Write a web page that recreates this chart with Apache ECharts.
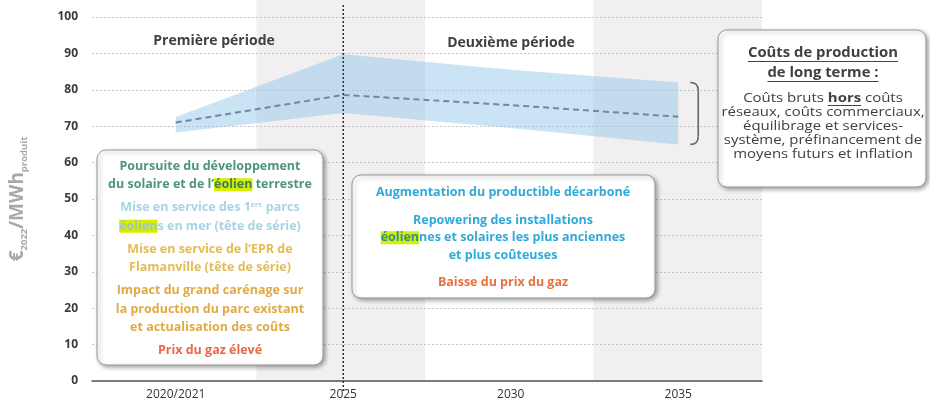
<!DOCTYPE html>
<html>
<head>
<meta charset="utf-8">
<script src="https://cdn.jsdelivr.net/npm/echarts@6/dist/echarts.min.js"></script>
<style>
  html, body { margin: 0; padding: 0; background: #fff; }
  #chart { width: 930px; height: 409px; }
</style>
</head>
<body>
<div id="chart"></div>
<script>
// data
var categories = ['2020/2021', '2025', '2030', '2035'];
var midCost = [71, 78.6, 75.8, 72.6];
var upperCost = [72.5, 89.8, 85.5, 82];
var lowerCost = [68.3, 73.6, 69.5, 65];
var yTicks = [0, 100, 10];
var periodNames = ['Première période', 'Deuxième période'];

var bandDiff = upperCost.map(function (v, i) { return +(v - lowerCost[i]).toFixed(2); });

var FONT = '"Open Sans", Lato, sans-serif';
var chart = echarts.init(document.getElementById('chart'));

var grid = { left: 88, right: 168, top: 17, bottom: 28 };

function measure(txt, font) {
  var c = measure.c || (measure.c = document.createElement('canvas').getContext('2d'));
  c.font = font;
  return c.measureText(txt).width;
}

var sp = function (h) { return { fontSize: 2, lineHeight: h }; };
var hl = '#d6ee00';

var box1Text = [
  '{g|Poursuite du développement}',
  '{g|du solaire et de l\u2019}{gh|éolien}{g| terrestre}',
  '{s| }',
  '{b|Mise en service des 1}{sup|ers}{b| parcs}',
  '{bh|éolien}{b|s en mer (tête de série)}',
  '{s| }',
  '{o|Mise en service de l\u2019EPR de}',
  '{o|Flamanville (tête de série)}',
  '{s| }',
  '{o2|Impact du grand carénage sur}',
  '{o2|la production du parc existant}',
  '{o2|et actualisation des coûts}',
  '{s| }',
  '{r|Prix du gaz élevé}'
].join('\n');

var box2Text = [
  '{c|Augmentation du productible décarboné}',
  '{s| }',
  '{c|Repowering des installations}',
  '{ch|éolien}{c|nes et solaires les plus anciennes}',
  '{c|et plus coûteuses}',
  '{s| }',
  '{r|Baisse du prix du gaz}'
].join('\n');

var box3Title = [
  '{t|Coûts de production}',
  '{t|de long terme :}'
].join('\n');
var box3Body = [
  '{n|Coûts bruts }{nb|hors}{n| coûts}',
  '{n|réseaux, coûts commerciaux,}',
  '{n|équilibrage et services-}',
  '{n|système, préfinancement de}',
  '{n|moyens futurs et inflation}'
].join('\n');

function bold(size, color, lh) { return { fontFamily: FONT, fontWeight: 'bold', fontSize: size, fill: color, lineHeight: lh }; }
function hlStyle(size, color, lh) { var s = bold(size, color, lh); s.backgroundColor = hl; return s; }

var boxStyle = {
  fill: '#fff', stroke: '#9a9a9a', lineWidth: 1,
  shadowColor: 'rgba(0,0,0,0.35)', shadowBlur: 4, shadowOffsetX: 2, shadowOffsetY: 2
};

var option = {
  animation: false,
  backgroundColor: '#fff',
  grid: [
    grid,
    { left: grid.left, right: grid.right, top: 0, bottom: grid.bottom }
  ],
  xAxis: [
    {
      type: 'category', data: categories, gridIndex: 0, boundaryGap: true,
      axisLine: { lineStyle: { color: '#555', width: 1.5 } },
      axisTick: { show: false },
      axisLabel: { color: '#333', fontFamily: FONT, fontSize: 12, margin: 8 },
      splitArea: { show: false }
    },
    {
      // only used for the grey columns, full height
      type: 'category', data: categories, gridIndex: 1, boundaryGap: true, z: -1,
      axisLine: { show: false }, axisTick: { show: false }, axisLabel: { show: false },
      splitArea: { show: true, areaStyle: { color: ['rgba(255,255,255,0)', '#f1efef'] } }
    }
  ],
  yAxis: [
    {
      type: 'value', gridIndex: 0, min: yTicks[0], max: yTicks[1], interval: yTicks[2],
      name: '{m|€}{s|2022}{m|/MWh}{s|produit}',
      nameLocation: 'middle', nameRotate: 90, nameGap: 63,
      nameTextStyle: {
        rich: {
          m: { fontFamily: FONT, fontWeight: 'bold', fontSize: 19, color: '#a8a8a8', lineHeight: 23 },
          s: { fontFamily: FONT, fontWeight: 'bold', fontSize: 9.5, color: '#a8a8a8', lineHeight: 9, verticalAlign: 'bottom' }
        }
      },
      axisLine: { show: false }, axisTick: { show: false },
      axisLabel: { color: '#3a3a3a', fontFamily: FONT, fontWeight: 'bold', fontSize: 12, margin: 14 },
      splitLine: { lineStyle: { color: '#c4c4c4', type: [2, 2], width: 1 } }
    },
    { type: 'value', gridIndex: 1, show: false, min: 0, max: 1, z: -1 }
  ],
  series: [
    {
      name: 'bas', type: 'line', stack: 'band', data: lowerCost,
      symbol: 'none', lineStyle: { opacity: 0 }, z: 2
    },
    {
      name: 'plage', type: 'line', stack: 'band', data: bandDiff,
      symbol: 'none', lineStyle: { opacity: 0 },
      areaStyle: { color: 'rgba(150,200,235,0.5)', opacity: 1 }, z: 2
    },
    {
      name: 'central', type: 'line', data: midCost,
      symbol: 'none', lineStyle: { color: '#75879b', width: 2, type: [6, 4] }, z: 3
    }
  ]
};

chart.setOption(option);

// annotations placed from the axes
var x2025 = chart.convertToPixel({ xAxisIndex: 0 }, '2025');
var xEnd = chart.convertToPixel({ xAxisIndex: 0 }, categories[3]);
var yTop = chart.convertToPixel({ yAxisIndex: 0 }, upperCost[3]);
var yBot = chart.convertToPixel({ yAxisIndex: 0 }, lowerCost[3]);
var bx = xEnd + 12, bw = 8;

// right-hand box: text is a little wider than the font, so stretch it
var cx3 = 823, tScale = 1.06, nScale = 1.15;
var tFont = 'bold 14px ' + FONT, nFont = '13px ' + FONT, nbFont = 'bold 13px ' + FONT;
var t1w = measure('Coûts de production', tFont) * tScale;
var t2w = measure('de long terme :', tFont) * tScale;
var wA = measure('Coûts bruts ', nFont), wB = measure('hors', nbFont), wC = measure(' coûts', nFont);
var hx = cx3 + nScale * (wA - (wA + wB + wC) / 2);

function uline(x1, x2, y, w) {
  return { type: 'line', z: 12, shape: { x1: x1, y1: y, x2: x2, y2: y }, style: { stroke: '#444', lineWidth: w || 1 } };
}
var bracketStyle = { stroke: '#666', lineWidth: 1.6, fill: null };

chart.setOption({
  graphic: [
    { type: 'line', z: 5, shape: { x1: x2025, y1: 5, x2: x2025, y2: 392 },
      style: { stroke: '#333', lineWidth: 1.5, lineDash: [2, 2] } },
    { type: 'bezierCurve', z: 5, shape: { x1: bx, y1: yTop, cpx1: bx + bw, cpy1: yTop, x2: bx + bw, y2: yTop + 8 }, style: bracketStyle },
    { type: 'line', z: 5, shape: { x1: bx + bw, y1: yTop + 8, x2: bx + bw, y2: yBot - 8 }, style: bracketStyle },
    { type: 'bezierCurve', z: 5, shape: { x1: bx + bw, y1: yBot - 8, cpx1: bx + bw, cpy1: yBot, x2: bx, y2: yBot }, style: bracketStyle },
    { type: 'text', z: 6, x: 214, y: 41, style: { text: periodNames[0], align: 'center', verticalAlign: 'middle',
        font: 'bold 14px ' + FONT, fill: '#404040' } },
    { type: 'text', z: 6, x: 511, y: 43, style: { text: periodNames[1], align: 'center', verticalAlign: 'middle',
        font: 'bold 14px ' + FONT, fill: '#404040' } },

    { type: 'rect', z: 10, shape: { x: 97, y: 150, width: 226, height: 215, r: 9 }, style: boxStyle },
    { type: 'text', z: 11, x: 210, y: 157, style: {
        text: box1Text, align: 'center', verticalAlign: 'top',
        rich: {
          g: bold(12.5, '#4d9580', 18.5), gh: hlStyle(12.5, '#3f7f55', 18.5),
          b: bold(12.5, '#aad3e4', 18.5), bh: hlStyle(12.5, '#a4c6b8', 18.5),
          sup: { fontFamily: FONT, fontWeight: 'bold', fontSize: 7, fill: '#aad3e4', lineHeight: 18.5, verticalAlign: 'top', padding: [3, 1, 0, 0] },
          o: bold(12.5, '#e6bb55', 18.5), o2: bold(12.5, '#e2aa45', 18.5),
          r: bold(12.5, '#e8694a', 18.5), s: sp(4.5)
        } } },

    { type: 'rect', z: 10, shape: { x: 352, y: 175, width: 303, height: 123, r: 9 }, style: boxStyle },
    { type: 'text', z: 11, x: 503, y: 184, style: {
        text: box2Text, align: 'center', verticalAlign: 'top',
        rich: {
          c: bold(12.5, '#2eaad8', 17.5), ch: hlStyle(12.5, '#2a8fa0', 17.5),
          r: bold(12.5, '#e8703f', 17.5), s: sp(10)
        } } },

    { type: 'rect', z: 10, shape: { x: 718, y: 30, width: 208, height: 157, r: 9 }, style: boxStyle },
    { type: 'text', z: 11, x: cx3, y: 43, scaleX: tScale, style: {
        text: box3Title, align: 'center', verticalAlign: 'top',
        rich: { t: bold(14, '#404040', 20) } } },
    { type: 'text', z: 11, x: cx3, y: 91, scaleX: nScale, style: {
        text: box3Body, align: 'center', verticalAlign: 'top',
        rich: {
          n: { fontFamily: FONT, fontSize: 13, fill: '#404040', lineHeight: 14 },
          nb: { fontFamily: FONT, fontWeight: 'bold', fontSize: 13, fill: '#404040', lineHeight: 14 }
        } } },
    uline(cx3 - t1w / 2, cx3 + t1w / 2, 61.5, 1.2),
    uline(cx3 - t2w / 2, cx3 + t2w / 2, 81.5, 1.2),
    uline(hx, hx + wB * nScale, 105.5, 1.2)
  ]
});
</script>
</body>
</html>
